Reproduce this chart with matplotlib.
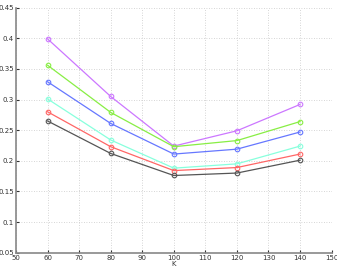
import matplotlib.pyplot as plt
import numpy as np

K = [60, 80, 100, 120, 140]
magenta = [0.399, 0.305, 0.224, 0.249, 0.292]
green = [0.356, 0.279, 0.223, 0.233, 0.264]
blue = [0.329, 0.261, 0.211, 0.219, 0.247]
cyan = [0.301, 0.234, 0.188, 0.195, 0.224]
red = [0.280, 0.223, 0.184, 0.189, 0.211]
black = [0.265, 0.212, 0.176, 0.180, 0.201]

series = [(magenta, "#cc77ff"), (green, "#88ee44"), (blue, "#6677ff"),
          (cyan, "#88ffdd"), (red, "#ff6666"), (black, "#555555")]

fig = plt.figure(figsize=(3.37, 2.73), dpi=100)
ax = fig.add_axes([0.0475, 0.0744, 0.9365, 0.8976])

for vals, c in series:
    ax.plot(K, vals, color=c, lw=0.9, marker='o', ms=3.3, mfc='none', mew=0.8)

ax.set_xlim(50, 150)
ax.set_ylim(0.05, 0.45)
ax.set_xticks(np.arange(50, 151, 10))
ax.set_yticks([0.05, 0.1, 0.15, 0.2, 0.25, 0.3, 0.35, 0.4, 0.45])
ax.set_yticklabels(['0.05', '0.1', '0.15', '0.2', '0.25', '0.3', '0.35', '0.4', '0.45'])
ax.grid(True, linestyle=(0, (1, 2)), color='#c8c8c8', lw=0.6)
ax.tick_params(direction='in', labelsize=5, length=2, pad=1.5, colors='#333333')
for s in ['top', 'right']:
    ax.spines[s].set_visible(False)
for s in ['left', 'bottom']:
    ax.spines[s].set_color('#888888')
    ax.spines[s].set_linewidth(1.2)
ax.set_xlabel('K', fontsize=5, labelpad=0, color='#333333')

fig.savefig('out.png', dpi=100)
